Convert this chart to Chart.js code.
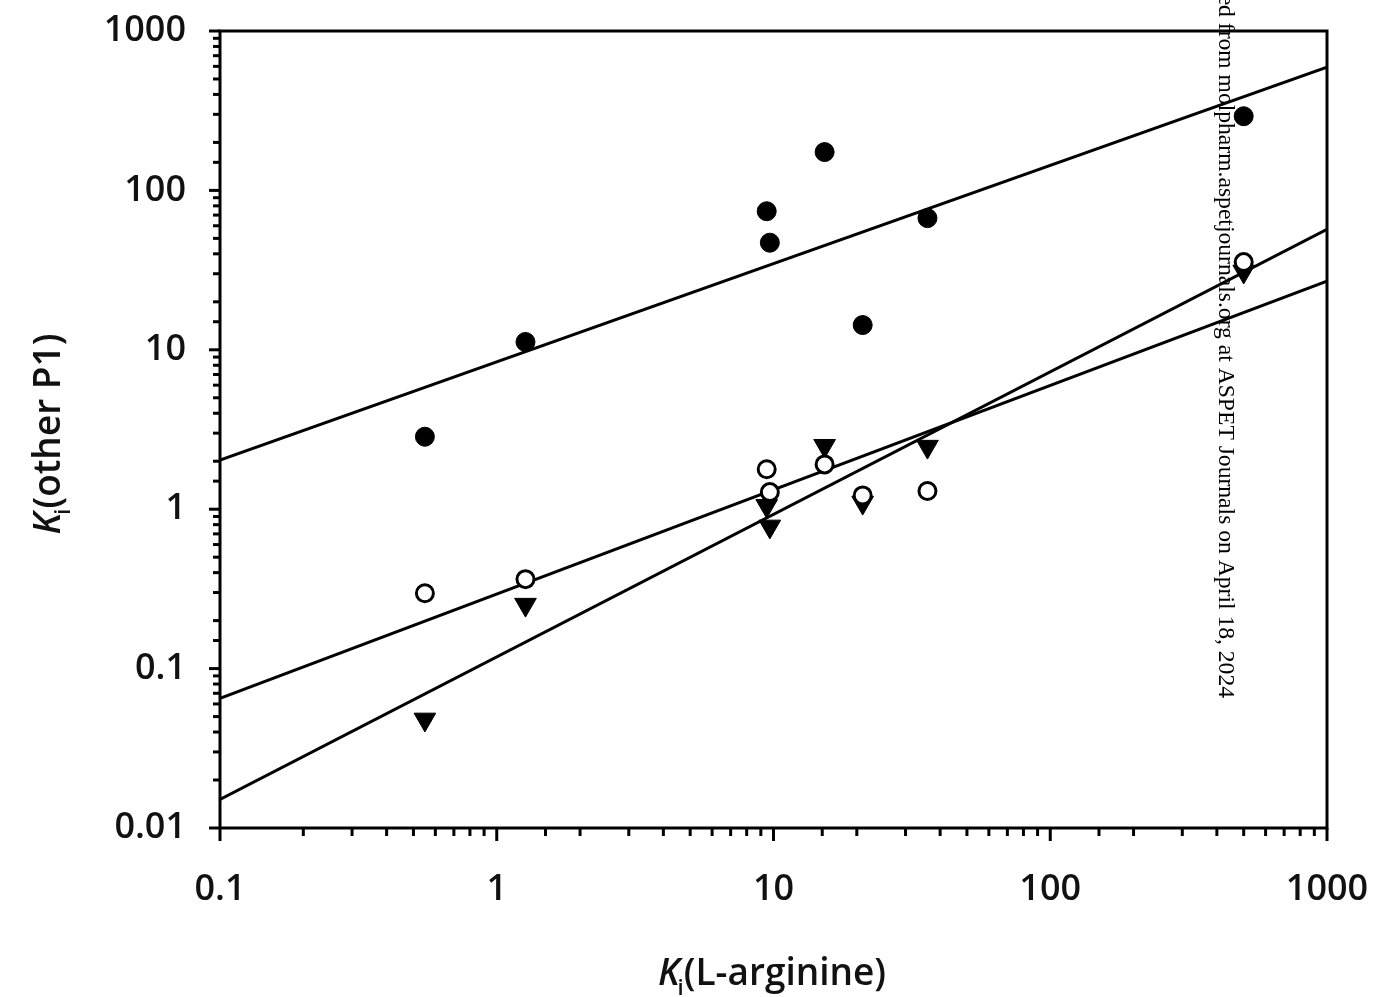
<!DOCTYPE html>
<html>
<head>
<meta charset="utf-8">
<script src="https://cdn.jsdelivr.net/npm/chart.js@4.4.1/dist/chart.umd.min.js"></script>
<style>
    html, body { margin: 0; padding: 0; background: #ffffff; }
    #wrap { width: 1375px; height: 997px; }
</style>
</head>
<body>
<div id="wrap"><canvas id="plot" width="1375" height="997"></canvas></div>
<script>
// Ki(L-arginine) on x, Ki(other P1) on y, three P1 sets
const ki_arginine = [0.55, 1.27, 9.45, 9.7, 15.3, 21.0, 36.0, 500];
const filled_circle_y = [2.85, 11.2, 74, 47, 174, 14.3, 67, 292];
const open_circle_y = [0.297, 0.364, 1.78, 1.28, 1.91, 1.22, 1.30, 35.5];
const triangle_y = [0.048, 0.252, 1.05, 0.78, 2.5, 1.1, 2.47, 31];

// regression lines, read at the two ends of the x axis
const fit_x = [0.1, 1000];
const fit_filled_y = [2.03, 593];
const fit_open_y = [0.065, 27];
const fit_triangle_y = [0.0151, 57];

const x_tick_labels = ["0.1", "1", "10", "100", "1000"];
const y_tick_labels = ["0.01", "0.1", "1", "10", "100", "1000"];

const watermark = "Downloaded from molpharm.aspetjournals.org at ASPET Journals on April 18, 2024";

function to_points(xs, ys)
{
    return xs.map((x, i) => ({ x: x, y: ys[i] }));
}

function decade_label(value, labels, first_exp)
{
    const e = Math.log10(value);
    if (Math.abs(e - Math.round(e)) > 1e-6) return '';
    const idx = Math.round(e) - first_exp;
    return labels[idx] !== undefined ? labels[idx] : '';
}

function is_major(value)
{
    const e = Math.log10(value);
    return Math.abs(e - Math.round(e)) < 1e-6;
}

function no_overhang(scale)
{
    scale.paddingLeft = 0;
    scale.paddingRight = 0;
    scale.paddingTop = 0;
    scale.paddingBottom = 0;
}

// frame, minor / major tick marks
const frame_plugin =
{
    id: 'frame_plugin',
    afterDraw(chart)
    {
        const ctx = chart.ctx;
        const area = chart.chartArea;
        ctx.save();
        ctx.strokeStyle = '#000';
        ctx.lineWidth = 3;
        ctx.strokeRect(area.left, area.top, area.right - area.left, area.bottom - area.top);

        const xs = chart.scales.x;
        xs.ticks.forEach(t =>
        {
            const px = xs.getPixelForValue(t.value);
            const len = is_major(t.value) ? 13 : 8;
            ctx.beginPath();
            ctx.moveTo(px, area.bottom);
            ctx.lineTo(px, area.bottom + len);
            ctx.stroke();
        });
        const ys = chart.scales.y;
        ys.ticks.forEach(t =>
        {
            const py = ys.getPixelForValue(t.value);
            const len = is_major(t.value) ? 11 : 7;
            ctx.beginPath();
            ctx.moveTo(area.left, py);
            ctx.lineTo(area.left - len, py);
            ctx.stroke();
        });
        ctx.restore();
    }
};

// axis titles with italic K and subscript i, plus the side watermark
function draw_ki_title(ctx, rest, size)
{
    const main_font = '600 ' + size + 'px "Open Sans"';
    const italic_font = 'italic 600 ' + size + 'px "Open Sans"';
    const sub_font = '600 ' + Math.round(size * 0.6) + 'px "Open Sans"';
    ctx.font = italic_font;
    const wk = ctx.measureText('K').width;
    ctx.font = sub_font;
    const wi = ctx.measureText('i').width;
    ctx.font = main_font;
    const wr = ctx.measureText(rest).width;
    const total = wk + wi - 2 + wr;
    let x = -total / 2;
    ctx.textBaseline = 'alphabetic';
    ctx.textAlign = 'left';
    ctx.font = italic_font;
    ctx.fillText('K', x, 0);
    x += wk - 2;
    ctx.font = sub_font;
    ctx.fillText('i', x, size * 0.28);
    x += wi;
    ctx.font = main_font;
    ctx.fillText(rest, x, 0);
}

const text_plugin =
{
    id: 'text_plugin',
    afterDraw(chart)
    {
        const ctx = chart.ctx;
        ctx.save();
        ctx.fillStyle = '#111';

        ctx.save();
        ctx.translate(772, 985);
        draw_ki_title(ctx, '(L-arginine)', 37);
        ctx.restore();

        ctx.save();
        ctx.translate(60, 434);
        ctx.rotate(-Math.PI / 2);
        draw_ki_title(ctx, '(other P1)', 37);
        ctx.restore();

        ctx.save();
        ctx.fillStyle = '#000';
        ctx.translate(1225, 698);
        ctx.rotate(Math.PI / 2);
        ctx.font = '23.6px "Liberation Serif"';
        ctx.textAlign = 'right';
        ctx.textBaseline = 'middle';
        ctx.fillText(watermark, 0, 0);
        ctx.restore();

        ctx.restore();
    }
};

const data =
{
    datasets:
        [{
            label: 'filled',
            data: to_points(ki_arginine, filled_circle_y),
            pointStyle: 'circle',
            pointRadius: 9.5,
            backgroundColor: '#000',
            borderColor: '#000',
            borderWidth: 1,
            order: 0
        },
        {
            label: 'open',
            data: to_points(ki_arginine, open_circle_y),
            pointStyle: 'circle',
            pointRadius: 8.5,
            backgroundColor: '#fff',
            borderColor: '#000',
            borderWidth: 3,
            order: 0
        },
        {
            label: 'triangle',
            data: to_points(ki_arginine, triangle_y),
            pointStyle: 'triangle',
            pointRotation: 180,
            pointRadius: 12.5,
            backgroundColor: '#000',
            borderColor: '#000',
            borderWidth: 1,
            order: 0
        },
        {
            label: 'fit filled',
            data: to_points(fit_x, fit_filled_y),
            showLine: true,
            pointRadius: 0,
            borderColor: '#000',
            borderWidth: 3,
            order: 1
        },
        {
            label: 'fit open',
            data: to_points(fit_x, fit_open_y),
            showLine: true,
            pointRadius: 0,
            borderColor: '#000',
            borderWidth: 3,
            order: 1
        },
        {
            label: 'fit triangle',
            data: to_points(fit_x, fit_triangle_y),
            showLine: true,
            pointRadius: 0,
            borderColor: '#000',
            borderWidth: 3,
            order: 1
        }]
};

const config =
{
    type: 'scatter',
    data,
    options:
    {
        responsive: false,
        animation: false,
        devicePixelRatio: 1,
        layout:
        {
            padding: { left: 0, top: 31, right: 48, bottom: 0 }
        },
        scales:
        {
            x:
            {
                type: 'logarithmic',
                min: 0.1,
                max: 1000,
                afterFit: scale => { scale.height = 169; no_overhang(scale); },
                border: { display: false },
                grid: { display: false, drawTicks: false },
                ticks:
                {
                    autoSkip: false,
                    maxRotation: 0,
                    padding: 40,
                    color: '#111',
                    font: { family: '"Open Sans"', size: 36, weight: '600' },
                    callback: value => decade_label(value, x_tick_labels, -1)
                }
            },
            y:
            {
                type: 'logarithmic',
                min: 0.01,
                max: 1000,
                afterFit: scale => { scale.width = 220; no_overhang(scale); },
                border: { display: false },
                grid: { display: false, drawTicks: false },
                ticks:
                {
                    autoSkip: false,
                    padding: 34,
                    color: '#111',
                    font: { family: '"Open Sans"', size: 36, weight: '600' },
                    callback: value => decade_label(value, y_tick_labels, -2)
                }
            }
        },
        plugins:
        {
            legend: { display: false },
            tooltip: { enabled: false }
        }
    },
    plugins: [frame_plugin, text_plugin]
};

const my_chart = new Chart(document.querySelector('#plot'), config);
</script>
</body>
</html>
